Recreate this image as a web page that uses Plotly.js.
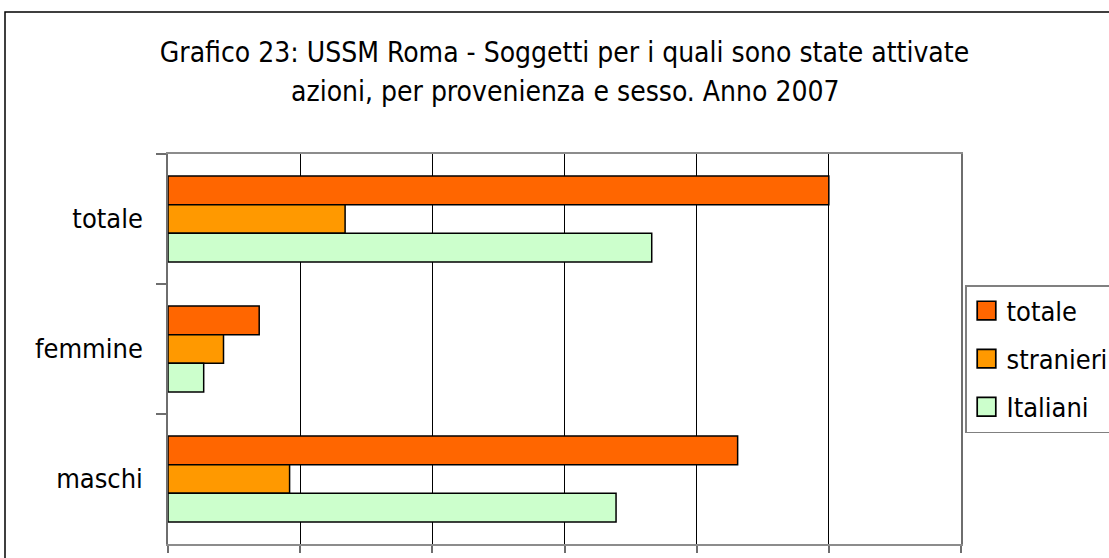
<!DOCTYPE html>
<html>
<head>
<meta charset="utf-8">
<script src="https://cdn.plot.ly/plotly-3.0.1.min.js"></script>
<style>
html, body { margin: 0; padding: 0; background: #ffffff; }
#chart { width: 1109px; height: 558px; }
/* enlarge the legend swatches to match the reference */
#chart .legend .legendpoints path { transform: translate(20px, 0px) scale(1.55); stroke-width: 1.1px !important; }
</style>
</head>
<body>
<div id="chart"></div>
<script>
// Categories (top to bottom; the y axis is reversed)
const categories = ['totale', 'femmine', 'maschi'];
// Series values
const totaleValues = [500, 69, 431];
const stranieriValues = [134, 42, 92];
const italianiValues = [366, 27, 339];
const seriesNames = ['totale', 'stranieri', 'Italiani'];
const xTickValues = [0, 100, 200, 300, 400, 500, 600];
const titleLine1 = 'Grafico 23: USSM Roma - Soggetti per i quali sono state attivate';
const titleLine2 = 'azioni, per provenienza e sesso. Anno 2007';

const FONT = '"DejaVu Sans Condensed", "Liberation Sans Narrow", "Liberation Sans", sans-serif';

function barTrace(name, values, color, group) {
  return {
    type: 'bar',
    orientation: 'h',
    name: name,
    y: categories,
    x: values,
    legendgroup: group,
    marker: { color: color, line: { color: '#000000', width: 1.5 } },
    hoverinfo: 'x+name'
  };
}

const traces = [
  barTrace(seriesNames[0], totaleValues, '#FF6600', 'g1'),
  barTrace(seriesNames[1], stranieriValues, '#FF9900', 'g2'),
  barTrace(seriesNames[2], italianiValues, '#CCFFCC', 'g3')
];

const layout = {
  width: 1109,
  height: 558,
  paper_bgcolor: '#ffffff',
  plot_bgcolor: '#ffffff',
  font: { family: FONT, color: '#000000', size: 27 },
  margin: { l: 168, r: 148, t: 154, b: 14, pad: 0, autoexpand: false },
  barmode: 'group',
  bargap: 0.338,
  bargroupgap: 0,
  title: {
    text: titleLine1,
    font: { family: FONT, size: 28, color: '#000000' },
    x: 0.509,
    xanchor: 'center',
    xref: 'container',
    y: 1 - 52 / 558,
    yanchor: 'middle',
    yref: 'container'
  },
  xaxis: {
    range: [0, 600],
    tickvals: xTickValues,
    showticklabels: false,
    showgrid: true,
    gridcolor: '#000000',
    gridwidth: 1,
    zeroline: false,
    showline: true,
    linecolor: '#8c8c8c',
    linewidth: 1.5,
    mirror: true,
    ticks: 'outside',
    ticklen: 7,
    tickcolor: '#6e6e6e',
    tickwidth: 1.5,
    fixedrange: true
  },
  yaxis: {
    type: 'category',
    categoryorder: 'array',
    categoryarray: categories,
    autorange: 'reversed',
    showline: true,
    linecolor: '#6e6e6e',
    linewidth: 1.5,
    mirror: true,
    ticks: 'outside',
    tickson: 'boundaries',
    ticklen: 10,
    tickcolor: '#6e6e6e',
    tickwidth: 1.5,
    showgrid: false,
    tickfont: { family: FONT, size: 27, color: '#000000' },
    ticklabelstandoff: 18,
    fixedrange: true
  },
  legend: {
    x: (965 - 168) / 793,
    xanchor: 'left',
    y: (544 - 285) / 390,
    yanchor: 'top',
    bgcolor: '#ffffff',
    bordercolor: '#808080',
    borderwidth: 1.5,
    font: { family: FONT, size: 27, color: '#000000' },
    traceorder: 'grouped',
    tracegroupgap: 10,
    itemclick: false,
    itemdoubleclick: false
  },
  annotations: [{
    text: titleLine2,
    xref: 'paper', yref: 'paper',
    x: (565 - 168) / 793,
    y: (544 - 92) / 390,
    xanchor: 'center', yanchor: 'middle',
    showarrow: false,
    font: { family: FONT, size: 28, color: '#000000' }
  }],
  shapes: [{
    type: 'rect',
    xref: 'paper', yref: 'paper',
    x0: (5 - 168) / 793,
    x1: (1120 - 168) / 793,
    y0: (544 - 575) / 390,
    y1: (544 - 12) / 390,
    line: { color: '#000000', width: 1.5 },
    fillcolor: 'rgba(0,0,0,0)',
    layer: 'below'
  }]
};

Plotly.newPlot('chart', traces, layout, { displayModeBar: false });
</script>
</body>
</html>
